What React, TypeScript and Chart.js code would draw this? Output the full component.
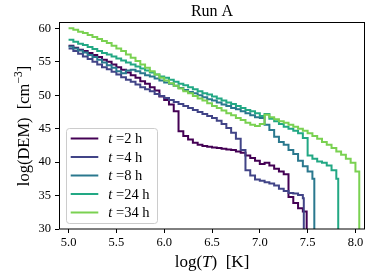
import React, { useEffect, useRef } from "react";
import { Chart, registerables } from "chart.js";

Chart.register(...registerables);

// log T grid (bin starts)
const logT = [
  5.0, 5.05, 5.1, 5.15, 5.2, 5.25, 5.3, 5.35, 5.4, 5.45,
  5.5, 5.55, 5.6, 5.65, 5.7, 5.75, 5.8, 5.85, 5.9, 5.95,
  6.0, 6.05, 6.1, 6.15, 6.2, 6.25, 6.3, 6.35, 6.4, 6.45,
  6.5, 6.55, 6.6, 6.65, 6.7, 6.75, 6.8, 6.85, 6.9, 6.95,
  7.0, 7.05, 7.1, 7.15, 7.2, 7.25, 7.3, 7.35, 7.4, 7.45,
  7.5, 7.55, 7.6, 7.65, 7.7, 7.75, 7.8, 7.85, 7.9, 7.95,
  8.0,
];

const dem2h = [
  57.4, 57.1, 56.8, 56.6, 56.3, 56.0, 55.7, 55.3, 55.0, 54.6,
  54.2, 53.8, 53.4, 53.0, 52.6, 52.1, 51.7, 51.2, 50.7, 49.8,
  49.3, 48.6, 47.6, 44.6, 43.9, 43.4, 42.9, 42.6, 42.4, 42.3,
  42.2, 42.1, 42.0, 41.9, 41.8, 41.6, 41.4, 41.0, 40.6, 40.2,
  39.7, 39.9, 39.5, 39.0, 38.6, 38.2, 34.8, 33.9, 33.1, 32.6,
];
const dem4h = [
  57.0, 56.6, 56.2, 55.8, 55.4, 55.0, 54.6, 54.2, 53.9, 53.5,
  53.1, 52.7, 52.3, 52.0, 51.6, 51.2, 50.9, 50.6, 50.2, 49.9,
  49.6, 49.3, 49.0, 48.7, 48.4, 48.1, 47.8, 47.5, 47.2, 46.9,
  46.6, 46.2, 45.7, 45.1, 44.4, 43.5, 41.8, 38.8, 38.0, 37.4,
  37.2, 37.0, 36.8, 36.5, 36.0, 35.7, 35.4, 35.3, 35.1, 34.6,
];
const dem8h = [
  57.3, 57.0, 56.7, 56.4, 56.0, 55.7, 55.3, 54.9, 54.5, 54.1,
  53.6, 53.3, 53.7, 53.8, 53.6, 53.3, 53.0, 52.8, 52.5, 52.2,
  51.9, 51.7, 51.4, 51.1, 50.8, 50.5, 50.3, 50.0, 49.7, 49.4,
  49.2, 48.9, 48.6, 48.4, 48.1, 47.9, 47.6, 47.3, 47.0, 46.7,
  46.6, 45.6, 44.8, 43.8, 43.0, 42.6, 41.8, 41.2, 40.2, 39.4,
  38.6, 37.5,
];
const dem24h = [
  58.3, 58.0, 57.7, 57.5, 57.2, 56.9, 56.6, 56.3, 56.1, 55.8,
  55.5, 55.2, 54.9, 54.6, 54.3, 54.0, 53.7, 53.4, 53.1, 52.8,
  52.6, 52.3, 52.0, 51.7, 51.5, 51.2, 50.9, 50.6, 50.3, 50.1,
  49.8, 49.5, 49.2, 48.9, 48.7, 48.4, 48.1, 47.8, 47.6, 47.3,
  46.9, 47.2, 46.5, 46.1, 45.7, 45.3, 45.0, 44.7, 44.3, 43.6,
  41.0, 40.5, 40.1, 39.9, 39.5, 38.8, 37.5,
];
const dem34h = [
  60.0, 59.8, 59.5, 59.3, 59.0, 58.7, 58.4, 58.1, 57.8, 57.4,
  57.0, 56.6, 56.1, 55.6, 55.1, 54.6, 54.1, 53.6, 53.1, 52.6,
  52.2, 51.8, 51.4, 51.0, 50.6, 50.3, 49.9, 49.5, 49.2, 48.8,
  48.4, 48.1, 47.7, 47.3, 47.0, 46.6, 46.3, 45.9, 45.6, 45.4,
  45.7, 47.1, 46.7, 46.4, 46.1, 45.9, 45.6, 45.3, 45.0, 44.7,
  44.3, 43.9, 43.5, 43.0, 42.6, 42.1, 41.6, 41.1, 40.5, 39.9,
  38.6,
];

// temperature where each DEM falls off to the bottom
const cutoffs = [7.49, 7.46, 7.57, 7.82, 8.04];
const hours = [2, 4, 8, 24, 34];
const colors = ["#440154", "#414487", "#2a788e", "#22a884", "#7ad151"];
const seriesValues = [dem2h, dem4h, dem8h, dem24h, dem34h];

const xTickValues = [5.0, 5.5, 6.0, 6.5, 7.0, 7.5, 8.0];
const yTickValues = [30, 35, 40, 45, 50, 55, 60];

const FONT = "'Liberation Serif', 'Times New Roman', serif";

type Part = { t: string; it?: boolean; size: number; dy?: number };

function setFont(ctx: CanvasRenderingContext2D, p: Part) {
  ctx.font = `${p.it ? "italic " : ""}${p.size}px ${FONT}`;
}
function partsWidth(ctx: CanvasRenderingContext2D, parts: Part[]) {
  let w = 0;
  for (const p of parts) {
    setFont(ctx, p);
    w += ctx.measureText(p.t).width;
  }
  return w;
}
function drawParts(ctx: CanvasRenderingContext2D, parts: Part[], x: number, y: number) {
  let cx = x;
  for (const p of parts) {
    setFont(ctx, p);
    ctx.fillText(p.t, cx, y + (p.dy || 0));
    cx += ctx.measureText(p.t).width;
  }
}

const decorPlugin = {
  id: "decor",
  afterDraw(chart: any) {
    const ctx: CanvasRenderingContext2D = chart.ctx;
    const a = chart.chartArea;
    ctx.save();
    ctx.fillStyle = "#000";
    ctx.textAlign = "left";
    ctx.textBaseline = "alphabetic";

    // frame
    ctx.strokeStyle = "#000";
    ctx.lineWidth = 1;
    ctx.strokeRect(Math.round(a.left) + 0.5, Math.round(a.top) - 0.5, Math.round(a.right - a.left) - 1, Math.round(a.bottom - a.top) + 0.5);

    const cx = (a.left + a.right) / 2;
    // title
    const title: Part[] = [{ t: "Run A", size: 16 }];
    drawParts(ctx, title, cx - partsWidth(ctx, title) / 2, 15.5);

    // x title
    const xt: Part[] = [
      { t: "log(", size: 17 },
      { t: "T", size: 17, it: true },
      { t: ")  [K]", size: 17 },
    ];
    drawParts(ctx, xt, cx - partsWidth(ctx, xt) / 2, 267);

    // y title
    const yt: Part[] = [
      { t: "log(DEM)  [cm", size: 16.5 },
      { t: "\u22123", size: 11.5, dy: -7 },
      { t: "]", size: 16.5 },
    ];
    ctx.save();
    ctx.translate(29, (a.top + a.bottom) / 2);
    ctx.rotate(-Math.PI / 2);
    drawParts(ctx, yt, -partsWidth(ctx, yt) / 2, 0);
    ctx.restore();

    // legend
    const lx = 66.5, ly = 128.5, lw = 91, lh = 95;
    ctx.beginPath();
    (ctx as any).roundRect(lx, ly, lw, lh, 3);
    ctx.fillStyle = "rgba(255,255,255,0.8)";
    ctx.fill();
    ctx.strokeStyle = "#cccccc";
    ctx.lineWidth = 1;
    ctx.stroke();
    hours.forEach((h, i) => {
      const y = 138.5 + i * 18.5;
      ctx.beginPath();
      ctx.moveTo(70.7, y);
      ctx.lineTo(98.3, y);
      ctx.strokeStyle = colors[i];
      ctx.lineWidth = 2;
      ctx.stroke();
      ctx.fillStyle = "#000";
      drawParts(ctx, [
        { t: "t", it: true, size: 14.5 },
        { t: " =" + h + " h", size: 14.5 },
      ], 108.3, y + 4.8);
    });
    ctx.restore();
  },
};

export default function App() {
  const ref = useRef<HTMLCanvasElement | null>(null);
  useEffect(() => {
    document.body.style.margin = "0";
    const canvas = ref.current!;
    const datasets = seriesValues.map((vals, s) => ({
      label: "t =" + hours[s] + " h",
      data: [
        ...vals.map((v, i) => ({ x: logT[i], y: v })),
        { x: cutoffs[s], y: 29 },
      ],
      borderColor: colors[s],
      backgroundColor: colors[s],
      borderWidth: 2,
      pointRadius: 0,
      stepped: "before" as const,
      fill: false,
      order: seriesValues.length - s,
      clip: 0,
    }));
    const chart = new Chart(canvas, {
      type: "line",
      data: { datasets },
      plugins: [decorPlugin],
      options: {
        animation: false,
        responsive: false,
        devicePixelRatio: 1,
        layout: { padding: { top: 23, right: 9, left: 0, bottom: 0 } },
        plugins: { legend: { display: false }, tooltip: { enabled: false }, title: { display: false } },
        scales: {
          x: {
            type: "linear",
            min: 4.9,
            max: 8.1,
            afterBuildTicks: (scale: any) => {
              scale.ticks = xTickValues.map((v) => ({ value: v }));
            },
            afterFit: (scale: any) => {
              scale.height = 51;
            },
            ticks: {
              color: "#000",
              font: { family: FONT, size: 12.5 },
              padding: 2,
              maxRotation: 0,
              autoSkip: false,
              callback: (v: any) => Number(v).toFixed(1),
            },
            grid: { drawOnChartArea: false, drawTicks: true, tickLength: 4, color: "#000", lineWidth: 1 },
            border: { display: false },
          },
          y: {
            type: "linear",
            min: 30,
            max: 60.8,
            afterBuildTicks: (scale: any) => {
              scale.ticks = yTickValues.map((v) => ({ value: v }));
            },
            afterFit: (scale: any) => {
              scale.width = 59;
            },
            ticks: {
              color: "#000",
              font: { family: FONT, size: 12.5 },
              padding: 4,
              autoSkip: false,
              callback: (v: any) => String(v),
            },
            grid: { drawOnChartArea: false, drawTicks: true, tickLength: 4, color: "#000", lineWidth: 1 },
            border: { display: false },
          },
        },
      },
    });
    return () => chart.destroy();
  }, []);
  return (
    <div style={{ width: 374, height: 280 }}>
      <canvas ref={ref} width={374} height={280} style={{ display: "block" }} />
    </div>
  );
}
